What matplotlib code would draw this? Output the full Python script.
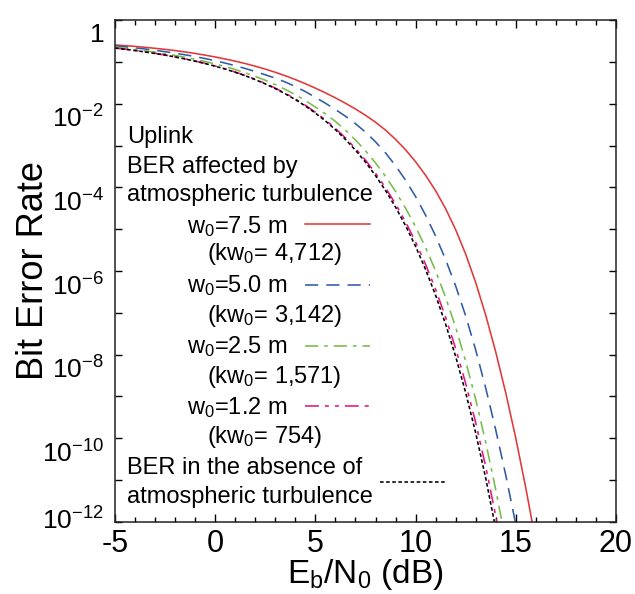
import numpy as np
import matplotlib
matplotlib.use("Agg")
import matplotlib.pyplot as plt
from matplotlib.ticker import FixedLocator, MultipleLocator, NullFormatter
from matplotlib.transforms import ScaledTranslation

plt.rcParams['font.family'] = ['Liberation Sans', 'DejaVu Sans']
plt.rcParams['mathtext.fontset'] = 'custom'
plt.rcParams['mathtext.rm'] = 'Liberation Sans'
plt.rcParams['mathtext.it'] = 'Liberation Sans:italic'
plt.rcParams['mathtext.bf'] = 'Liberation Sans:bold'
plt.rcParams['lines.scale_dashes'] = False

# Eb/N0 grid (dB), -5 ... 16 in 0.5 dB steps
ebn0_db = [-5.0, -4.5, -4.0, -3.5, -3.0, -2.5, -2.0, -1.5, -1.0, -0.5,
           0.0, 0.5, 1.0, 1.5, 2.0, 2.5, 3.0, 3.5, 4.0, 4.5,
           5.0, 5.5, 6.0, 6.5, 7.0, 7.5, 8.0, 8.5, 9.0, 9.5,
           10.0, 10.5, 11.0, 11.5, 12.0, 12.5, 13.0, 13.5, 14.0, 14.5,
           15.0, 15.5, 16.0]

# log10(BER) for each beam waist
log_ber_w75 = [-0.596, -0.613, -0.631, -0.653, -0.677, -0.702, -0.730, -0.764, -0.800, -0.840,
               -0.884, -0.932, -0.984, -1.041, -1.105, -1.173, -1.250, -1.333, -1.424, -1.523,
               -1.629, -1.742, -1.862, -1.990, -2.128, -2.278, -2.443, -2.633, -2.853, -3.103,
               -3.388, -3.713, -4.083, -4.513, -5.013, -5.598, -6.278, -7.058, -7.938, -8.918,
               -9.998, -11.188, -12.478]
log_ber_w50 = [-0.617, -0.640, -0.666, -0.693, -0.724, -0.757, -0.793, -0.832, -0.875, -0.922,
               -0.974, -1.030, -1.092, -1.159, -1.232, -1.309, -1.391, -1.483, -1.590, -1.712,
               -1.848, -1.990, -2.140, -2.300, -2.478, -2.680, -2.912, -3.178, -3.483, -3.830,
               -4.222, -4.667, -5.165, -5.730, -6.360, -7.075, -7.890, -8.800, -9.800, -10.885,
               -12.055, -13.305, -14.630]
log_ber_w25 = [-0.649, -0.675, -0.704, -0.736, -0.769, -0.806, -0.847, -0.891, -0.940, -0.992,
               -1.052, -1.114, -1.185, -1.262, -1.348, -1.441, -1.544, -1.659, -1.786, -1.926,
               -2.082, -2.245, -2.425, -2.635, -2.868, -3.127, -3.416, -3.738, -4.098, -4.498,
               -4.944, -5.443, -5.999, -6.634, -7.345, -8.160, -9.071, -10.098, -11.231, -12.475,
               -13.860, -15.416, -17.200]
log_ber_w12 = [-0.669, -0.697, -0.728, -0.762, -0.798, -0.837, -0.881, -0.929, -0.981, -1.037,
               -1.101, -1.168, -1.244, -1.326, -1.418, -1.517, -1.629, -1.752, -1.887, -2.038,
               -2.205, -2.388, -2.592, -2.819, -3.071, -3.350, -3.662, -4.010, -4.397, -4.827,
               -5.307, -5.844, -6.442, -7.110, -7.856, -8.691, -9.628, -10.680, -11.859, -13.176,
               -14.645, -16.297, -18.170]
# without turbulence
log_ber_clear = [-0.671, -0.699, -0.730, -0.764, -0.800, -0.840, -0.884, -0.932, -0.984, -1.041,
                 -1.105, -1.173, -1.250, -1.333, -1.426, -1.527, -1.640, -1.765, -1.903, -2.056,
                 -2.226, -2.413, -2.622, -2.854, -3.112, -3.399, -3.719, -4.076, -4.474, -4.917,
                 -5.412, -5.966, -6.583, -7.274, -8.046, -8.910, -9.873, -10.955, -12.167, -13.520,
                 -15.030, -16.730, -18.640]

w0_labels = ["w$_0$=7.5 m", "w$_0$=5.0 m", "w$_0$=2.5 m", "w$_0$=1.2 m"]
kw0_labels = ["(kw$_0$= 4,712)", "(kw$_0$= 3,142)", "(kw$_0$= 1,571)", "(kw$_0$= 754)"]
header_lines = ["Uplink", "BER affected by", "atmospheric turbulence"]
clear_lines = ["BER in the absence of", "atmospheric turbulence"]

y_exponents = [0, -2, -4, -6, -8, -10, -12]
x_ticks = [-5, 0, 5, 10, 15, 20]

series = [log_ber_w75, log_ber_w50, log_ber_w25, log_ber_w12]
colors = ['#E2383A', '#2F5BA7', '#77BD45', '#E4157F']
dashes = [None, (9.5, 5.8), (9.5, 4.3, 2.6, 4.3), (10.0, 4.3, 2.9, 4.3, 2.9, 4.3)]
clear_dash = (2.6, 1.8)
lw = 1.15

fig = plt.figure(figsize=(6.35, 5.94), dpi=100)
ax = fig.add_axes([115 / 635, 72 / 594, 501 / 635, 502 / 594])

x = np.array(ebn0_db, dtype=float)
for vals, col, dsh in zip(series, colors, dashes):
    ln, = ax.plot(x, 10.0 ** np.array(vals), color=col, lw=lw)
    if dsh is not None:
        ln.set_dashes(dsh)
clear_ln, = ax.plot(x, 10.0 ** np.array(log_ber_clear), color='black', lw=lw)
clear_ln.set_dashes(clear_dash)

ax.set_yscale('log')
ax.set_xlim(-5, 20)
ax.set_ylim(1e-12, 1)

# ticks on all four sides, pointing inward
ax.xaxis.set_major_locator(FixedLocator(x_ticks))
ax.xaxis.set_minor_locator(MultipleLocator(1))
ax.set_xticklabels([str(v) for v in x_ticks])
ax.yaxis.set_major_locator(FixedLocator([10.0 ** e for e in y_exponents]))
ax.yaxis.set_minor_locator(FixedLocator([10.0 ** e for e in range(-11, 0, 2)]))
ax.yaxis.set_minor_formatter(NullFormatter())
ylabels = ['$\\mathregular{1}$'] + ['$\\mathregular{10^{%d}}$' % e for e in y_exponents[1:]]
ax.set_yticklabels(ylabels)

ax.tick_params(axis='x', which='major', direction='in', length=5.8, width=1.0,
               top=True, labelsize=22, pad=5)
ax.tick_params(axis='x', which='minor', direction='in', length=3.3, width=1.0, top=True)
ax.tick_params(axis='y', which='both', direction='in', length=5.0, width=1.0,
               right=True, labelsize=19, pad=8)

for i, lab in enumerate(ax.get_yticklabels()):
    dy = -13 if i < len(y_exponents) - 1 else 3
    lab.set_transform(lab.get_transform() + ScaledTranslation(0, dy / 100, fig.dpi_scale_trans))

for sp in ax.spines.values():
    sp.set_linewidth(1.1)
    sp.set_color('#222222')

ax.set_xlabel('E$_\\mathregular{b}$/N$_\\mathregular{0}$ (dB)', fontsize=24)
ax.xaxis.set_label_coords(0.5, -0.069)
ax.set_ylabel('Bit Error Rate', fontsize=26)
ax.yaxis.set_label_coords(-0.128, 0.5)

# annotation block inside the axes
fs = 17
for txt, yb in zip(header_lines, [0.755, 0.696, 0.639]):
    ax.text(0.024, yb, txt, transform=ax.transAxes, fontsize=fs, va='baseline', ha='left')

w_base = [0.576, 0.457, 0.3367, 0.215]
kw_base = [0.522, 0.399, 0.2775, 0.157]
key_y = [0.594, 0.472, 0.351, 0.231]
for i in range(4):
    ax.text(0.1437, w_base[i], w0_labels[i], transform=ax.transAxes, fontsize=fs,
            va='baseline', ha='left')
    ax.text(0.1836, kw_base[i], kw0_labels[i], transform=ax.transAxes, fontsize=fs,
            va='baseline', ha='left')
    key, = ax.plot([0.379, 0.509], [key_y[i], key_y[i]], transform=ax.transAxes,
                   color=colors[i], lw=lw)
    if dashes[i] is not None:
        key.set_dashes(dashes[i])

for txt, yb in zip(clear_lines, [0.0956, 0.0378]):
    ax.text(0.024, yb, txt, transform=ax.transAxes, fontsize=fs, va='baseline', ha='left')
key, = ax.plot([0.529, 0.659], [0.0797, 0.0797], transform=ax.transAxes, color='black', lw=lw)
key.set_dashes(clear_dash)

fig.savefig('out.png', dpi=100)
